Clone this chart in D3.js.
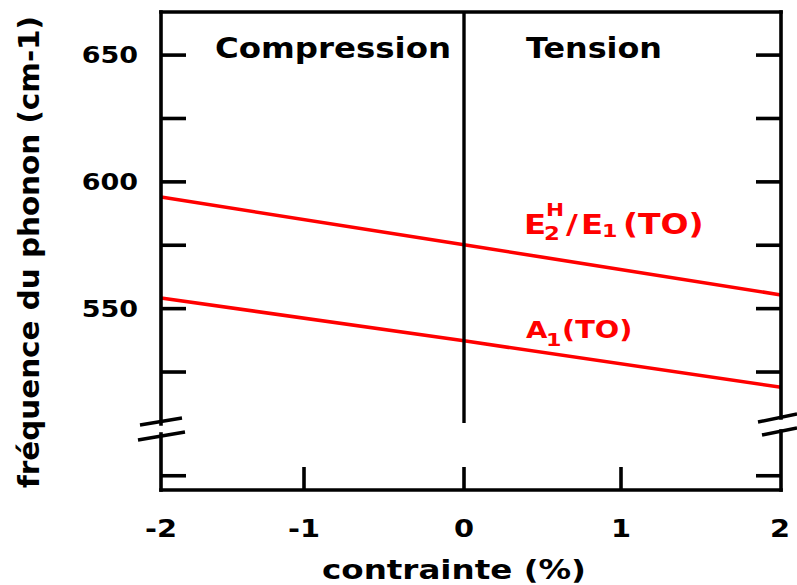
<!DOCTYPE html>
<html>
<head>
<meta charset="utf-8">
<script src="https://cdn.jsdelivr.net/npm/d3@7"></script>
<style>
  html, body { margin: 0; padding: 0; background: #fff; }
  svg { display: block; }
  text { font-family: "DejaVu Sans", sans-serif; font-weight: bold; }
</style>
</head>
<body>
<svg id="chart" width="797" height="585"></svg>
<script>
// ---- data ----
const strain = [-2, 0, 2];                       // contrainte (%)
const e2H = [594.0, 575.2, 555.4];               // E2H/E1(TO) frequency (cm-1)
const a1 = [554.2, 537.3, 519.0];                // A1(TO) frequency (cm-1)
const xTickValues = [-2, -1, 0, 1, 2];
const xTickLabels = ["-2", "-1", "0", "1", "2"];
const yTickValues = [525, 550, 575, 600, 625, 650];
const yLabelValues = [550, 600, 650];
const yLabelTexts = ["550", "600", "650"];
const lowerTickValues = [0.25];
const regionLabels = ["Compression", "Tension"];
const xTitle = "contrainte (%)";
const yTitle = "fréquence du phonon (cm-1)";

(function () {
// ---- layout ----
const svg = d3.select("#chart");
const pl = 161, pr = 781, pt = 12, pb = 490;
const x = d3.scaleLinear().domain([-2, -1, 0, 1, 2]).range([161, 304, 464, 621, 781]);
const y = d3.scaleLinear().domain([500, 667]).range([435.4, pt]);
const yLow = d3.scaleLinear().domain([0, 1]).range([pb, 433]);
const breakTopL = 424, breakBotL = 433, breakTopR = 418, breakBotR = 430;
const sw = 3.6, tickLen = 25;

const black = "#000";
const g = svg.append("g");

// red lines
const line = d3.line().x((d, i) => x(strain[i])).y(d => y(d));
[e2H, a1].forEach(s => {
  g.append("path").attr("d", line(s)).attr("fill", "none")
    .attr("stroke", "#ff0000").attr("stroke-width", 3.6);
});

// zero line
g.append("line").attr("x1", x(0)).attr("x2", x(0)).attr("y1", pt).attr("y2", 423)
  .attr("stroke", black).attr("stroke-width", 3.4);

// frame
const frame = (x1, y1, x2, y2) => g.append("line").attr("x1", x1).attr("y1", y1)
  .attr("x2", x2).attr("y2", y2).attr("stroke", black).attr("stroke-width", sw)
  .attr("stroke-linecap", "square");
frame(pl, pt, pr, pt);
frame(pl, pb, pr, pb);
frame(pl, pt, pl, breakTopL);
frame(pl, breakBotL + 1, pl, pb);
frame(pr, pt, pr, breakTopR);
frame(pr, breakBotR + 1, pr, pb);

// break marks
const brk = (x1, y1, x2, y2) => g.append("line").attr("x1", x1).attr("y1", y1)
  .attr("x2", x2).attr("y2", y2).attr("stroke", black).attr("stroke-width", 3.4);
brk(pl - 21, breakTopL + 1, pl + 21, breakTopL - 6);
brk(pl - 23, breakBotL + 7, pl + 24, breakBotL - 1);
brk(pr - 23, breakTopR + 4, pr + 16, breakTopR - 4);
brk(pr - 19, breakBotR + 5, pr + 16, breakBotR - 2);

// y ticks (both sides, inward)
const yTickPix = yTickValues.map(v => y(v)).concat(lowerTickValues.map(v => yLow(v)));
yTickPix.forEach(py => {
  g.append("line").attr("x1", pl).attr("x2", pl + tickLen).attr("y1", py).attr("y2", py)
    .attr("stroke", black).attr("stroke-width", sw);
  g.append("line").attr("x1", pr).attr("x2", pr - tickLen).attr("y1", py).attr("y2", py)
    .attr("stroke", black).attr("stroke-width", sw);
});

// x ticks (bottom, inward)
xTickValues.filter(v => v > -2 && v < 2).forEach(v => {
  g.append("line").attr("x1", x(v)).attr("x2", x(v)).attr("y1", pb).attr("y2", pb - 23)
    .attr("stroke", black).attr("stroke-width", sw);
});

// text helper with horizontal stretch
function label(px, py, str, size, anchor, stretch, color) {
  return g.append("g").attr("transform", `translate(${px},${py}) scale(${stretch},1)`)
    .append("text").attr("x", 0).attr("y", 0).attr("font-size", size)
    .attr("text-anchor", anchor).attr("fill", color || black).text(str);
}

// y tick labels
yLabelValues.forEach((v, i) => {
  label(138, y(v) + 8, yLabelTexts[i], 22.5, "end", 1.2);
});

// x tick labels
xTickValues.forEach((v, i) => {
  label(x(v) + (v === 2 ? -1 : 0), 537, xTickLabels[i], 24, "middle", 1.2);
});

// region labels
g.append("text").attr("x", 215).attr("y", 58).attr("font-size", 27.5)
  .attr("textLength", 236).attr("lengthAdjust", "spacingAndGlyphs").text(regionLabels[0]);
g.append("text").attr("x", 526).attr("y", 58).attr("font-size", 27.5)
  .attr("textLength", 136).attr("lengthAdjust", "spacingAndGlyphs").text(regionLabels[1]);

// axis titles
g.append("text").attr("x", 322).attr("y", 579).attr("font-size", 26)
  .attr("textLength", 264).attr("lengthAdjust", "spacingAndGlyphs").text(xTitle);
g.append("text").attr("transform", "translate(39,252) rotate(-90)")
  .attr("text-anchor", "middle").attr("font-size", 28)
  .attr("textLength", 472).attr("lengthAdjust", "spacingAndGlyphs").text(yTitle);

// series labels (red) — one text element each, pieces as tspans
const red = "#ff0000";
const st = 1.2;
function richLabel(parts) {
  const t = g.append("g").attr("transform", `scale(${st},1)`)
    .append("text").attr("fill", red);
  parts.forEach(p => {
    t.append("tspan").attr("x", p.x / st).attr("y", p.y)
      .attr("font-size", p.s).text(p.t);
  });
  return t;
}
richLabel([
  { t: "E", x: 524, y: 234, s: 27 },
  { t: "2", x: 544, y: 240, s: 19 },
  { t: "H", x: 546, y: 216, s: 18 },
  { t: "/", x: 566, y: 234, s: 27 },
  { t: "E", x: 581, y: 234, s: 27 },
  { t: "1", x: 602, y: 237, s: 18.5 },
  { t: "(TO)", x: 623, y: 234, s: 27.5 }
]);
richLabel([
  { t: "A", x: 526, y: 338, s: 23 },
  { t: "1", x: 546, y: 346, s: 18.5 },
  { t: "(TO)", x: 562, y: 338, s: 24 }
]);
})();
</script>
</body>
</html>
